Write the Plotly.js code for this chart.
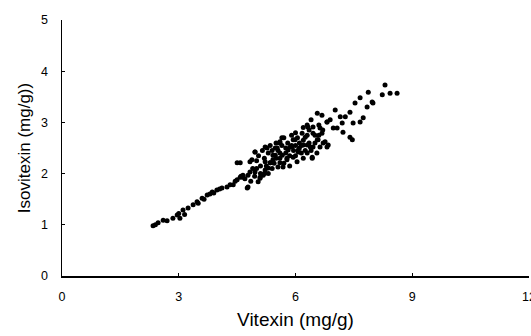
<!DOCTYPE html>
<html>
<head>
<meta charset="utf-8">
<script src="https://cdn.plot.ly/plotly-3.0.1.min.js"></script>
<style>html,body{margin:0;padding:0;background:#fff;}#chart{width:531px;height:336px;}</style>
</head>
<body>
<div id="chart"></div>
<script>
// Vitexin (mg/g) values
const vitexin = [
  2.34,2.40,2.47,2.60,2.70,2.85,2.96,3.00,3.03,3.11,3.15,3.24,3.37,3.47,3.50,3.60,3.65,3.73,3.80,3.86,3.90,3.98,4.05,4.11,4.24,4.32,4.40,4.45,4.50,4.58,4.60,4.65,4.76,4.78,4.83,4.96,5.04,5.09,5.17,
  4.50,4.83,4.96,5.22,5.22,5.30,5.35,5.42,5.48,5.53,5.60,5.60,5.68,5.78,5.81,5.91,5.94,6.04,6.07,6.20,6.25,6.30,6.38,6.43,6.45,6.45,6.56,6.63,6.68,6.76,6.84,6.81,6.97,
  4.58,4.65,4.78,4.88,4.96,5.09,5.22,5.27,5.35,5.42,5.48,5.55,5.60,5.66,5.78,5.86,5.94,5.99,6.07,6.17,6.20,6.30,6.32,6.43,6.45,6.50,6.58,6.63,6.71,6.81,
  6.56,6.68,6.81,6.89,7.02,7.07,7.15,7.22,7.20,7.28,7.40,7.46,7.40,7.48,7.53,7.66,7.74,7.66,7.87,7.84,7.99,7.97,8.23,8.30,8.43,8.61,
  5.10,5.20,5.30,5.35,5.40,5.45,5.50,5.55,5.60,5.65,5.70,5.70,5.75,5.80,5.85,5.85,5.90,5.95,6.00,6.00,6.05,6.10,6.10,6.15,6.20,6.25,6.30,6.35,6.40,
  5.00,5.05,5.15,5.25,5.30,5.40,5.50,5.60,5.65,5.75,5.90,6.00,6.15,4.90,4.95,5.00,4.70,4.85,5.10,5.20,6.50,6.55,6.60,6.35,6.20,6.40,6.60,6.70,6.30
];
// Isovitexin (mg/g) values
const isovitexin = [
  0.98,1.00,1.04,1.09,1.08,1.13,1.19,1.22,1.13,1.29,1.20,1.33,1.39,1.45,1.42,1.52,1.50,1.58,1.60,1.64,1.62,1.68,1.70,1.72,1.74,1.78,1.78,1.85,1.88,1.93,1.95,1.97,1.72,1.97,2.03,2.03,1.84,1.91,1.97,
  2.21,2.23,2.42,2.52,2.23,2.11,2.21,2.27,2.36,2.50,2.60,2.21,2.13,2.30,2.46,2.52,2.66,2.23,2.42,2.56,2.71,2.40,2.52,2.32,2.79,2.91,2.66,2.52,2.79,2.62,2.56,3.01,2.89,
  2.21,1.93,1.74,2.27,2.42,1.93,2.07,2.50,2.21,2.36,2.50,2.13,2.62,2.36,2.27,2.52,2.32,2.66,2.46,2.79,2.30,2.56,2.91,2.30,2.52,2.75,2.66,2.89,2.60,2.52,
  3.18,3.14,3.01,3.05,3.24,2.89,3.11,2.81,2.99,3.11,2.71,2.66,3.20,2.99,3.38,3.01,3.09,3.48,3.59,3.30,3.38,3.40,3.54,3.73,3.57,3.57,
  2.15,2.30,2.40,2.55,2.10,2.20,2.60,2.45,2.30,2.55,2.20,2.70,2.40,2.60,2.15,2.35,2.75,2.45,2.55,2.35,2.70,2.50,2.60,2.40,2.65,2.45,2.75,2.60,2.45,
  2.25,2.35,2.45,2.15,2.00,2.45,2.30,2.40,2.70,2.50,2.55,2.80,2.55,2.10,1.95,2.10,1.90,1.85,2.00,2.00,2.60,2.40,2.75,2.85,2.90,3.05,2.95,2.85,2.95
];
const xTicks = [0, 3, 6, 9, 12];
const yTicks = [0, 1, 2, 3, 4, 5];

const fontFam = '"Liberation Sans", Arial, Helvetica, sans-serif';

Plotly.newPlot('chart', [{
  x: vitexin, y: isovitexin,
  type: 'scatter', mode: 'markers',
  marker: {color: '#000', size: 5, line: {width: 0}},
  cliponaxis: false,
  hoverinfo: 'skip'
}], {
  width: 531, height: 336,
  margin: {l: 62, r: 2, t: 20, b: 60},
  paper_bgcolor: '#fff', plot_bgcolor: '#fff',
  showlegend: false,
  font: {family: fontFam, color: '#000', size: 13},
  xaxis: {
    range: [0, 12], tickvals: xTicks, ticktext: xTicks.map(String),
    showgrid: false, zeroline: false,
    showline: true, linecolor: '#000', linewidth: 1.5,
    ticks: 'inside', ticklen: 3, tickwidth: 1, tickcolor: '#000',
    ticklabelstandoff: 8,
    ticklabeloverflow: 'allow',
    tickfont: {family: fontFam, size: 12.5, color: '#000'},
    title: {text: 'Vitexin (mg/g)', font: {family: fontFam, size: 19, color: '#000'}, standoff: 10},
    fixedrange: true
  },
  yaxis: {
    range: [0, 5], tickvals: yTicks, ticktext: yTicks.map(String),
    showgrid: false, zeroline: false,
    showline: true, linecolor: '#000', linewidth: 1.5,
    ticks: 'inside', ticklen: 3, tickwidth: 1, tickcolor: '#000',
    ticklabelstandoff: 10,
    ticklabeloverflow: 'allow',
    tickfont: {family: fontFam, size: 12.5, color: '#000'},
    title: {text: 'Isovitexin (mg/g))', font: {family: fontFam, size: 17, color: '#000'}, standoff: 6},
    fixedrange: true
  }
}, {displayModeBar: false, staticPlot: true});
</script>
</body>
</html>
